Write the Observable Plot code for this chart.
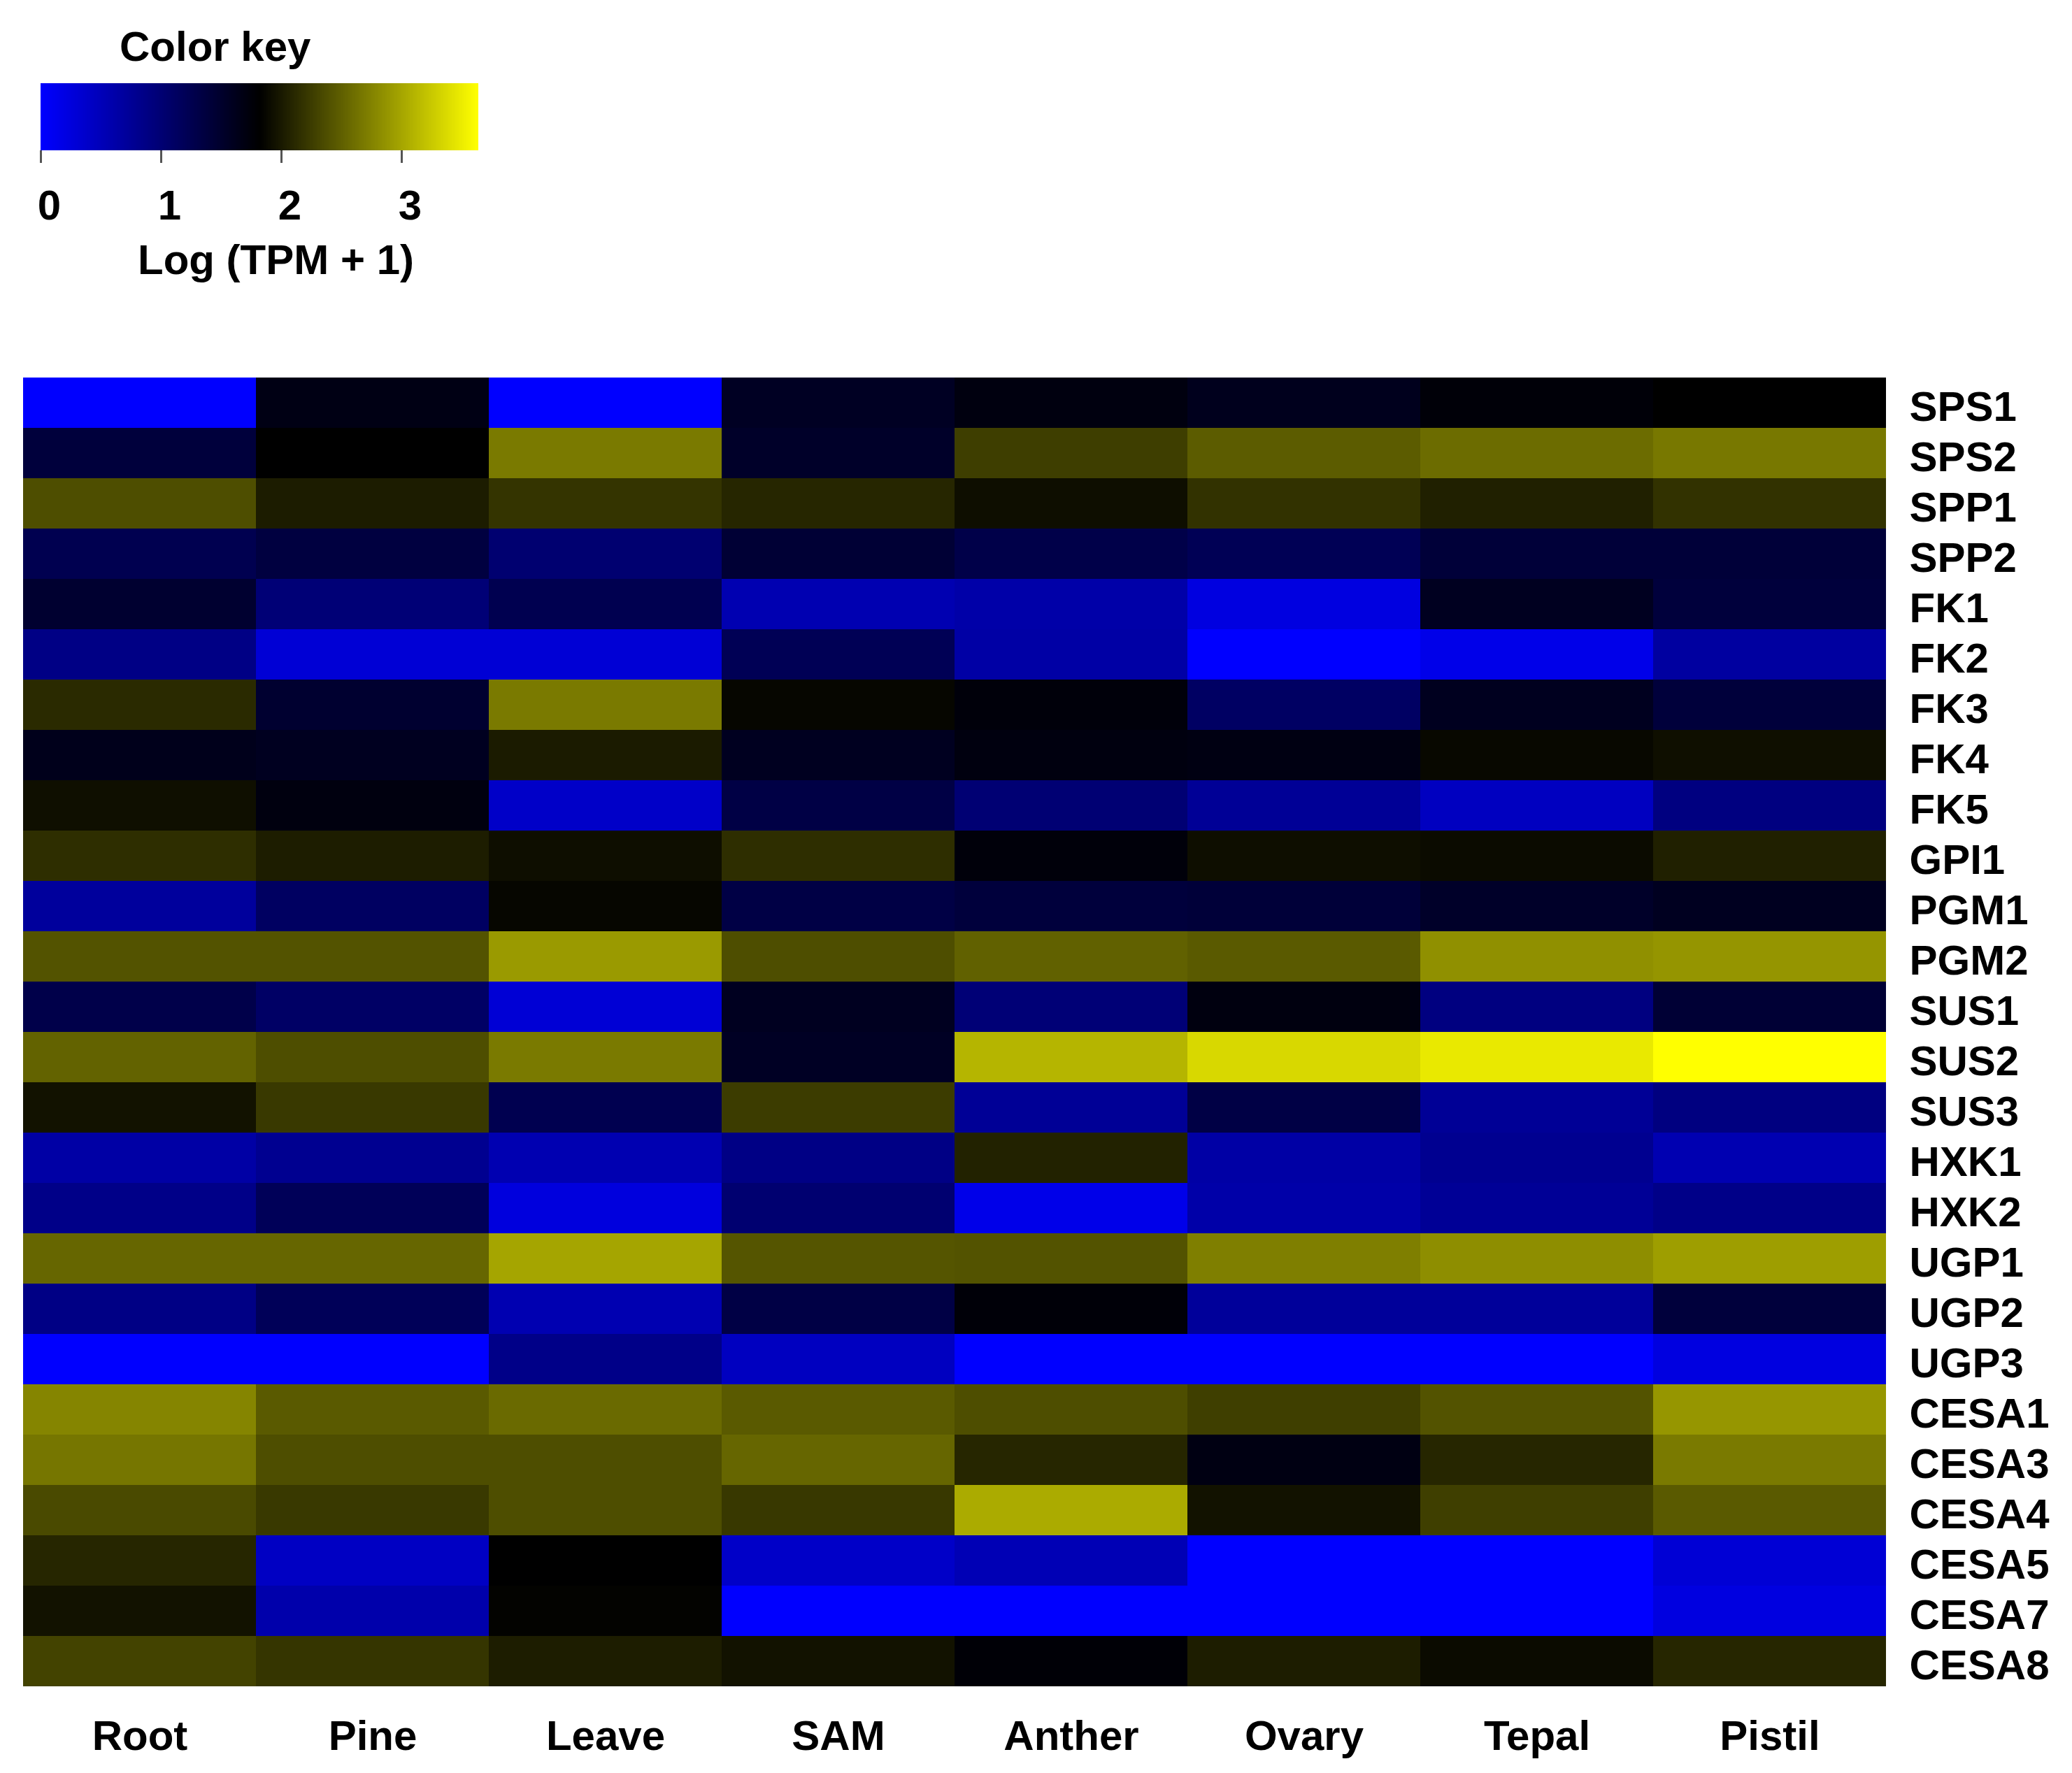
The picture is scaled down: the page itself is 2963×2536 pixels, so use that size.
<!DOCTYPE html>
<html><head><meta charset="utf-8">
<script src="https://cdn.jsdelivr.net/npm/d3@7"></script>
<script src="https://cdn.jsdelivr.net/npm/@observablehq/plot@0.6"></script>
<style>
html,body{margin:0;padding:0;background:#fff;}
#page{position:relative;width:2963px;height:2536px;background:#fff;font-family:'Liberation Sans',Arial,sans-serif;overflow:hidden;}
#key{position:absolute;left:0;top:0;}
#heat{position:absolute;left:0;top:440px;}
</style></head>
<body><div id="page"><div id="key"></div><div id="heat"></div></div>
<script>
// ---- data ----
const tissues = ["Root", "Pine", "Leave", "SAM", "Anther", "Ovary", "Tepal", "Pistil"];
const genes = ["SPS1","SPS2","SPP1","SPP2","FK1","FK2","FK3","FK4","FK5","GPI1","PGM1","PGM2",
  "SUS1","SUS2","SUS3","HXK1","HXK2","UGP1","UGP2","UGP3","CESA1","CESA3","CESA4","CESA5","CESA7","CESA8"];
// log(TPM + 1), one array per tissue, in gene order
const root   = [0.00,1.39,2.38,1.25,1.48,0.87,2.12,1.63,1.93,2.15,0.71,2.41,1.29,2.53,1.95,0.64,0.85,2.55,0.87,0.00,2.77,2.66,2.35,2.09,1.95,2.30];
const pine   = [1.68,1.82,2.02,1.36,0.98,0.30,1.48,1.59,1.71,2.03,1.13,2.41,1.10,2.38,2.23,0.79,1.19,2.55,1.19,0.00,2.46,2.38,2.23,0.43,0.60,2.20];
const leave  = [0.00,2.69,2.19,1.02,1.25,0.30,2.69,2.01,0.39,1.92,1.86,2.92,0.30,2.69,1.25,0.56,0.24,3.00,0.56,0.85,2.58,2.38,2.38,1.82,1.84,2.03];
const sam    = [1.57,1.53,2.09,1.44,0.56,1.21,1.86,1.59,1.33,2.15,1.33,2.38,1.59,1.56,2.25,0.87,1.02,2.43,1.33,0.45,2.46,2.55,2.22,0.39,0.00,1.95];
const anther = [1.71,2.26,1.92,1.30,0.62,0.64,1.75,1.71,1.00,1.75,1.39,2.51,0.98,3.11,0.75,2.06,0.16,2.41,1.76,0.00,2.38,2.09,3.04,0.53,0.00,1.78];
const ovary  = [1.61,2.48,2.18,1.21,0.22,0.00,1.11,1.69,0.75,1.92,1.41,2.46,1.71,3.36,1.33,0.64,0.62,2.73,0.72,0.00,2.27,1.69,1.95,0.00,0.00,2.03];
const tepal  = [1.76,2.59,2.05,1.41,1.59,0.16,1.60,1.88,0.45,1.90,1.53,2.85,0.91,3.48,0.75,0.79,0.75,2.83,0.72,0.00,2.41,2.09,2.27,0.00,0.00,1.90];
const pistil = [1.82,2.68,2.18,1.41,1.39,0.68,1.40,1.93,0.91,2.05,1.59,2.88,1.44,3.64,0.91,0.56,0.85,2.95,1.39,0.22,2.89,2.69,2.46,0.30,0.22,2.09];
const columns = [root, pine, leave, sam, anther, ovary, tepal, pistil];

const colorDomain = [0, 1.82, 3.64];
const colorRange = ["#0000ff", "#000000", "#ffff00"];
const keyTicks = [0, 1, 2, 3];
const keyTitle = "Color key";
const keyLabel = "Log (TPM + 1)";

const cells = genes.flatMap((g, i) => tissues.map((t, j) => ({gene: g, tissue: t, value: columns[j][i]})));

const FONT = "'Liberation Sans', Arial, Helvetica, sans-serif";
const colorOpts = {type: "linear", domain: colorDomain, range: colorRange, interpolate: "rgb", clamp: true};

// ---- color key ----
const key = Plot.legend({
  color: colorOpts,
  label: keyTitle,
  ticks: keyTicks,
  tickFormat: d => String(d),
  width: 700, height: 430,
  marginTop: 119, marginBottom: 215, marginLeft: 58, marginRight: 16,
  tickSize: 18,
  style: {fontSize: "60px", fontFamily: FONT, fontWeight: "bold", color: "#000", background: "transparent", overflow: "visible"}
});
const ks = d3.select(key);
ks.selectAll(".tick line").attr("y1", 0).attr("stroke", "#555").attr("stroke-width", 3);
ks.selectAll(".tick text").attr("y", 56).attr("dx", 12);
ks.selectChildren("text").attr("x", 171).attr("y", 87);
ks.append("text").attr("x", 197).attr("y", 392).attr("font-weight", "bold").attr("fill", "currentColor").text(keyLabel);
document.getElementById("key").append(key);

// ---- heatmap ----
const heat = Plot.plot({
  width: 2963, height: 2096,
  marginTop: 89, marginBottom: 113, marginLeft: 32, marginRight: 265,
  style: {fontSize: "60px", fontFamily: FONT, fontWeight: "bold", color: "#000", background: "transparent"},
  x: {domain: tissues, padding: 0},
  y: {domain: genes, padding: 0},
  color: colorOpts,
  marks: [
    Plot.cell(cells, {x: "tissue", y: "gene", fill: "value"}),
    Plot.axisX({anchor: "bottom", tickSize: 0, tickPadding: 37, fontSize: 60, fontWeight: "bold", label: null}),
    Plot.axisY({anchor: "right", tickSize: 0, tickPadding: 32, fontSize: 60, fontWeight: "bold", label: null, dy: 6})
  ]
});
document.getElementById("heat").append(heat);
</script></body></html>
